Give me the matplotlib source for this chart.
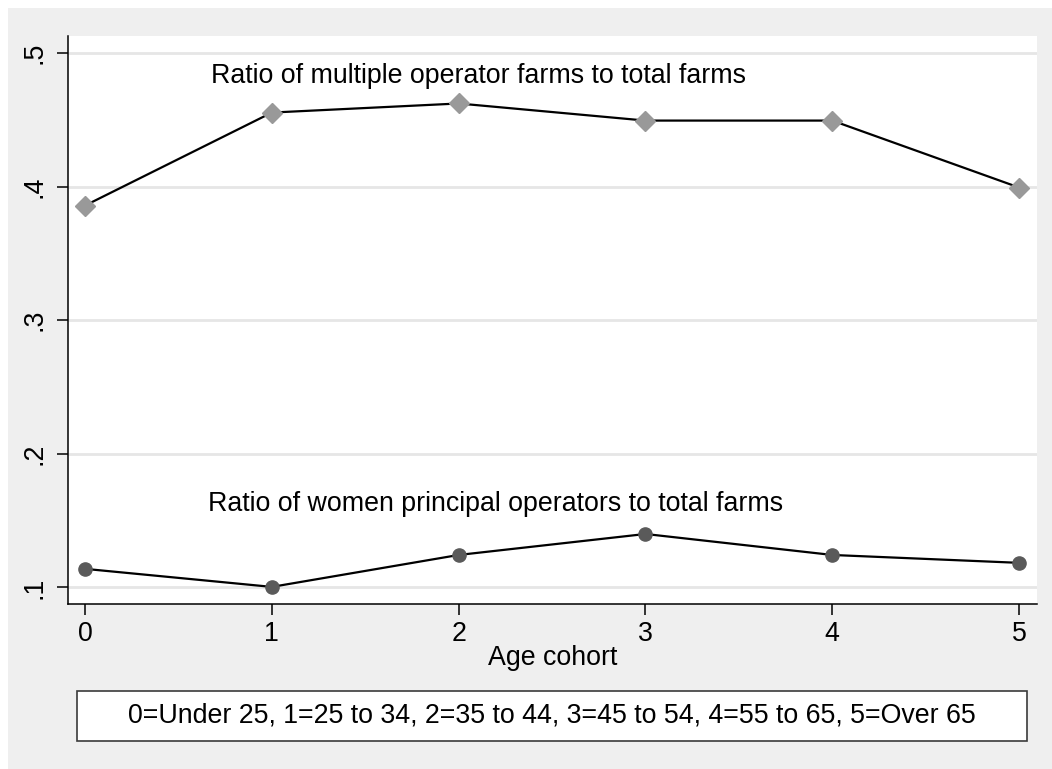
import matplotlib
matplotlib.use("Agg")
import matplotlib.pyplot as plt
from matplotlib.patches import Rectangle

# --- Data ---
age_cohort = [0, 1, 2, 3, 4, 5]
multi_operator_ratio = [0.3858, 0.4554, 0.4622, 0.4494, 0.4494, 0.3993]
women_operator_ratio = [0.1139, 0.1004, 0.1243, 0.1400, 0.1243, 0.1184]
y_ticks = [0.1, 0.2, 0.3, 0.4, 0.5]
y_tick_labels = [".1", ".2", ".3", ".4", ".5"]
multi_label = "Ratio of multiple operator farms to total farms"
women_label = "Ratio of women principal operators to total farms"
note_text = "0=Under 25, 1=25 to 34, 2=35 to 44, 3=45 to 54, 4=55 to 65, 5=Over 65"

plt.rcParams["font.family"] = ["Liberation Sans", "DejaVu Sans"]
FS = 19.3

W, H = 1052, 769
fig = plt.figure(figsize=(W / 100, H / 100), dpi=100, facecolor="white")

# grey graph region (small white margin top/left)
fig.patches.append(Rectangle((8 / W, 0), 1 - 8 / W, 1 - 8 / H, transform=fig.transFigure,
                             facecolor="#efefef", edgecolor="none", zorder=-5))

ax = fig.add_axes([68 / W, 1 - 604 / H, (1037 - 68) / W, (604 - 36) / H])
ax.set_facecolor("white")

ax.plot(age_cohort, multi_operator_ratio, color="black", lw=1.6, zorder=3)
ax.plot(age_cohort, multi_operator_ratio, ls="none", marker="D", ms=10,
        color="#999999", mec="#999999", zorder=4, clip_on=False)
ax.plot(age_cohort, women_operator_ratio, color="black", lw=1.6, zorder=3)
ax.plot(age_cohort, women_operator_ratio, ls="none", marker="o", ms=9.5,
        color="#5a5a5a", mec="#5a5a5a", zorder=4, clip_on=False)

ax.text(0.675, 0.4824, multi_label, ha="left", va="center", fontsize=FS)
ax.text(0.66, 0.1625, women_label, ha="left", va="center", fontsize=FS)

ax.set_xlim(-0.091, 5.096)
ax.set_ylim(0.0876, 0.5127)
ax.set_xticks(age_cohort)
ax.set_yticks(y_ticks)
ax.set_yticklabels(y_tick_labels, rotation=90, va="center")
ax.grid(axis="y", color="#e6e6e6", lw=2.0, zorder=1)
ax.set_axisbelow(True)

for s in ["top", "right"]:
    ax.spines[s].set_visible(False)
for s in ["left", "bottom"]:
    ax.spines[s].set_linewidth(1.1)
ax.tick_params(axis="both", direction="out", length=8, width=1.1, labelsize=FS)
ax.tick_params(axis="x", pad=4.5)
ax.tick_params(axis="y", pad=6.5)
ax.set_xlabel("Age cohort", fontsize=FS, labelpad=-2)

# note box below the plot
fig.patches.append(Rectangle((77 / W, 1 - 741 / H), 950 / W, 50 / H, transform=fig.transFigure,
                             facecolor="white", edgecolor="#3a3a3a", lw=1.2, zorder=2))
fig.text(552 / W, 1 - 716 / H, note_text, ha="center", va="center", fontsize=FS, zorder=3)

fig.savefig("out.png", dpi=100, facecolor=fig.get_facecolor())
